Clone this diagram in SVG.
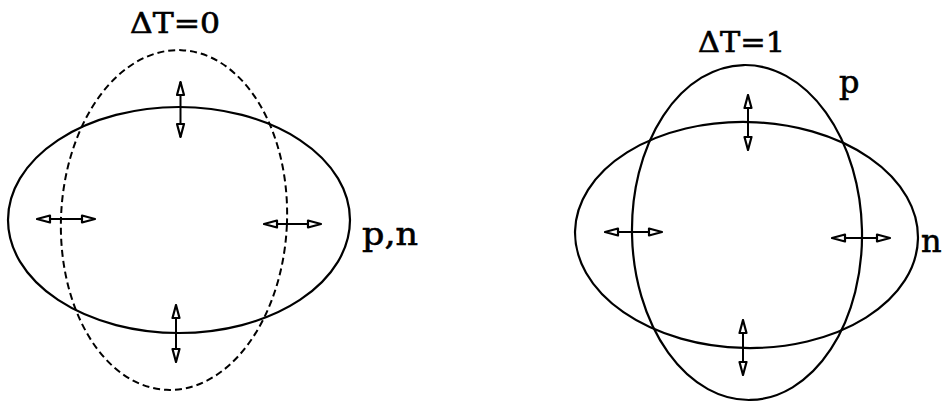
<svg xmlns="http://www.w3.org/2000/svg" width="951" height="405" viewBox="0 0 951 405">
<style>
.shape{fill:none;stroke:#000;stroke-width:2.2}
.dash{fill:none;stroke:#000;stroke-width:2;stroke-dasharray:7 4}
.arr{stroke:#000;stroke-width:2;fill:none;marker-start:url(#oh);marker-end:url(#oh)}
.lbl{font-family:"DejaVu Serif","Liberation Serif",serif;font-size:28px;fill:#000;stroke:#000;stroke-width:0.6}
.big{font-size:32px}
</style>
<defs>
<marker id="oh" viewBox="0 0 16 10" refX="15" refY="5" markerWidth="16" markerHeight="10" markerUnits="userSpaceOnUse" orient="auto-start-reverse">
<path d="M15,5 L2,1.5 L2,8.5 Z" fill="#fff" stroke="#000" stroke-width="2.2" stroke-linejoin="round"/>
</marker>
</defs>
<rect width="951" height="405" fill="#fff"/>
<g id="left-figure">
<g id="left-pn">
<ellipse class="shape" cx="179" cy="220" rx="171" ry="113"/>
</g>
<g id="left-dashed">
<ellipse class="dash" cx="174" cy="220" rx="113" ry="170" transform="rotate(2.5 174 220)"/>
</g>
<text class="lbl" x="130" y="33" textLength="90" lengthAdjust="spacingAndGlyphs">ΔT=0</text>
<text class="lbl big" x="362" y="245" textLength="56" lengthAdjust="spacingAndGlyphs">p,n</text>
</g>
<g id="right-figure">
<g id="right-n">
<ellipse class="shape" cx="746.5" cy="235" rx="171.5" ry="113" transform="rotate(1.3 746.5 235)"/>
</g>
<g id="right-p">
<ellipse class="shape" cx="747" cy="232.5" rx="115" ry="167.5" transform="rotate(-1.2 747 232.5)"/>
</g>
<text class="lbl" x="698" y="52" textLength="87" lengthAdjust="spacingAndGlyphs">ΔT=1</text>
<text class="lbl big" x="839" y="93">p</text>
<text class="lbl big" x="921" y="252">n</text>
</g>
<g id="connectors">
<line class="arr" x1="180.5" y1="82" x2="180.5" y2="137"/>
<line class="arr" x1="176" y1="305" x2="176" y2="362"/>
<line class="arr" x1="37" y1="219" x2="95" y2="219"/>
<line class="arr" x1="264" y1="224" x2="321" y2="224"/>
<line class="arr" x1="748" y1="95" x2="748" y2="150"/>
<line class="arr" x1="743" y1="320" x2="743" y2="375"/>
<line class="arr" x1="605" y1="232" x2="662" y2="232"/>
<line class="arr" x1="832" y1="238" x2="890" y2="238"/>
</g>
</svg>
